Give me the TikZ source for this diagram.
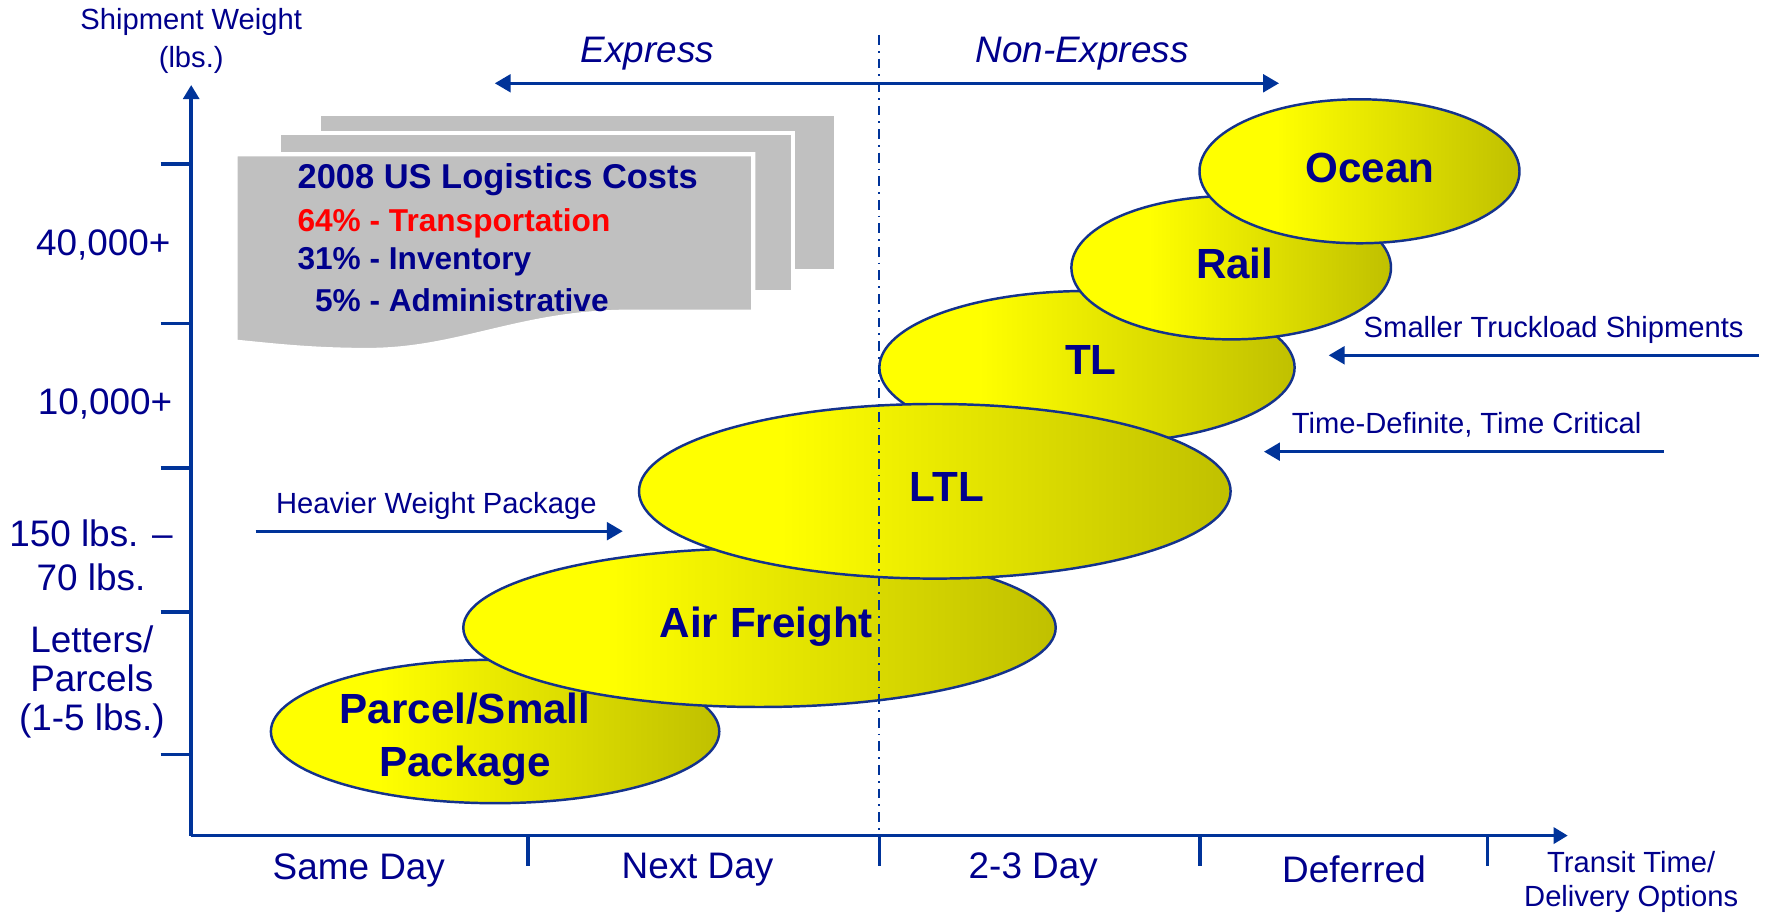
\documentclass[tikz,border=0pt]{standalone}
\usepackage{fontspec}
\setmainfont{Liberation Sans}
\usepackage{xcolor}
\usepackage{tikz}
\usetikzlibrary{arrows.meta,shapes.geometric,positioning}

\definecolor{axisblue}{RGB}{0,51,153}
\definecolor{labelblue}{RGB}{0,0,140}
\definecolor{ovalline}{RGB}{20,50,140}
\definecolor{olv}{RGB}{192,192,0}
\definecolor{sheetgray}{RGB}{192,192,192}
\pgfdeclarehorizontalshading{ovalshade}{100bp}{color(0bp)=(yellow); color(25bp)=(yellow); color(37bp)=(yellow); color(75bp)=(olv); color(100bp)=(olv)}

\begin{document}
\begin{tikzpicture}[
    axisline/.style={draw=axisblue, line width=1pt},
    notearrow/.style={draw=axisblue, line width=0.9pt, -{Triangle[width=5pt,length=4.5pt]}},
    axlabel/.style={text=labelblue, font=\fontsize{10.5}{12.6}\selectfont},
    notetext/.style={text=labelblue, font=\fontsize{8.3}{10}\selectfont},
    sheet/.style={fill=sheetgray, draw=white, line width=1.2pt},
    boxtext/.style={anchor=west, inner sep=0pt, font=\bfseries\fontsize{9}{11}\selectfont},
    oval/.style={ellipse, draw=ovalline, line width=0.7pt, shade, shading=ovalshade, inner sep=0pt},
    ovaltext/.style={text=labelblue, align=center, font=\bfseries\fontsize{12}{15}\selectfont}
]
    % Frame
    \useasboundingbox (0,0) rectangle (17.71,9.15);

    % Cost sheets
    \draw[sheet] (3.186,6.44) rectangle (8.364,8.01);
    \draw[sheet] (2.784,6.228) rectangle (7.933,7.817);
    \draw[sheet] (2.354,7.607) -- (7.532,7.607) -- (7.532,6.033) -- (6.315,6.033)
        .. controls (5.2,6.033) and (4.6,5.65) .. (3.674,5.65)
        .. controls (3.1,5.65) and (2.7,5.70) .. (2.354,5.733) -- cycle;

    % Cost text
    \node[boxtext, anchor=center, text=labelblue, font=\bfseries\fontsize{9.8}{11}\selectfont] (costtitle) at (4.977,7.35) {2008 US Logistics Costs};
    \node[boxtext, text=red] (costtrans) at (2.968,6.92) {64\% - Transportation};
    \node[boxtext, text=labelblue] (costinv) at (2.968,6.533) {31\% - Inventory};
    \node[boxtext, text=labelblue] (costadm) at (2.968,6.15) {\phantom{3}5\% - Administrative};

    % Modes
    \node[oval, minimum width=4.484cm, minimum height=1.434cm] (parcel) at (4.951,1.835) {};
    \node[oval, minimum width=5.924cm, minimum height=1.586cm] (air) at (7.595,2.873) {};
    \node[oval, minimum width=4.152cm, minimum height=1.53cm] (tl) at (10.87,5.475) {};
    \node[oval, minimum width=5.916cm, minimum height=1.746cm] (ltl) at (9.348,4.237) {};
    \node[oval, minimum width=3.196cm, minimum height=1.434cm] (rail) at (12.312,6.473) {};
    \node[oval, minimum width=3.2cm, minimum height=1.44cm] (ocean) at (13.595,7.437) {};

    % Split line
    \coordinate (splittop) at (8.794,8.80);
    \coordinate (splitbot) at (8.794,0.487);
    \draw[axisblue, line width=0.6pt, dash pattern=on 2.8pt off 1.7pt on 0.5pt off 1.7pt] (splittop) -- (splitbot);

    % Mode labels
    \node[ovaltext] (parceltxt) at (4.65,1.757) {Parcel/Small\\Package};
    \node[ovaltext] (airtxt) at (7.664,2.88) {Air Freight};
    \node[ovaltext] (ltltxt) at (9.47,4.275) {LTL};
    \node[ovaltext] (tltxt) at (10.908,5.55) {TL};
    \node[ovaltext] (railtxt) at (12.347,6.517) {Rail};
    \node[ovaltext] (oceantxt) at (13.698,7.467) {Ocean};

    % Axes
    \coordinate (orig) at (1.912,0.794);
    \coordinate (ytop) at (1.912,8.30);
    \coordinate (xend) at (15.678,0.794);
    \draw[axisline, -{Triangle[width=4.5pt,length=4pt]}] (orig) -- (ytop);
    \draw[axisline, -{Triangle[width=4.5pt,length=4pt]}] (orig) -- (xend);
    \foreach \y in {7.51,5.917,4.47,3.03,1.603}
        \draw[axisline] (1.607,\y) -- (1.912,\y);
    \foreach \x in {5.281,8.794,12.0,14.873}
        \draw[axisline] (\x,0.794) -- (\x,0.487);

    % Weight labels
    \node[notetext, align=center, font=\fontsize{8.3}{10.9}\selectfont] (yname) at (1.912,8.74) {Shipment Weight\\(lbs.)};
    \node[axlabel] (w40k) at (1.033,6.70) {40,000+};
    \node[axlabel] (w10k) at (1.05,5.11) {10,000+};
    \node[axlabel, align=center] (w150) at (0.91,3.60) {150 lbs. –\\70 lbs.};
    \node[axlabel, align=center, font=\fontsize{10.5}{11.1}\selectfont] (wletters) at (0.918,2.33) {Letters/\\Parcels\\(1-5 lbs.)};

    % Time labels
    \node[axlabel] (same) at (3.588,0.45) {Same Day};
    \node[axlabel] (next) at (6.975,0.45) {Next Day};
    \node[axlabel] (twothree) at (10.333,0.46) {2-3 Day};
    \node[axlabel] (deferred) at (13.54,0.46) {Deferred};
    \node[notetext, align=center, font=\fontsize{8.3}{9.7}\selectfont] (xname) at (16.312,0.333) {Transit Time/\\Delivery Options};

    % Express / Non-Express
    \node[axlabel, font=\itshape\fontsize{10.5}{12.6}\selectfont] (express) at (6.475,8.617) {Express};
    \node[axlabel, font=\itshape\fontsize{10.5}{12.6}\selectfont] (nonexpress) at (10.82,8.617) {Non-Express};
    \coordinate (expL) at (4.948,8.317);
    \coordinate (expR) at (12.79,8.317);
    \draw[notearrow, {Triangle[width=5pt,length=4.5pt]}-{Triangle[width=5pt,length=4.5pt]}] (expL) -- (expR);

    % Notes
    \node[notetext] (heavy) at (4.363,4.094) {Heavier Weight Package};
    \coordinate (heavyA) at (2.555,3.838);
    \coordinate (heavyB) at (6.228,3.838);
    \draw[notearrow] (heavyA) -- (heavyB);

    \node[notetext] (smaller) at (15.537,5.85) {Smaller Truckload Shipments};
    \coordinate (smallerA) at (17.59,5.597);
    \coordinate (smallerB) at (13.287,5.597);
    \draw[notearrow] (smallerA) -- (smallerB);

    \node[notetext] (timedef) at (14.667,4.90) {Time-Definite, Time Critical};
    \coordinate (timedefA) at (16.635,4.633);
    \coordinate (timedefB) at (12.64,4.633);
    \draw[notearrow] (timedefA) -- (timedefB);

\end{tikzpicture}
\end{document}
